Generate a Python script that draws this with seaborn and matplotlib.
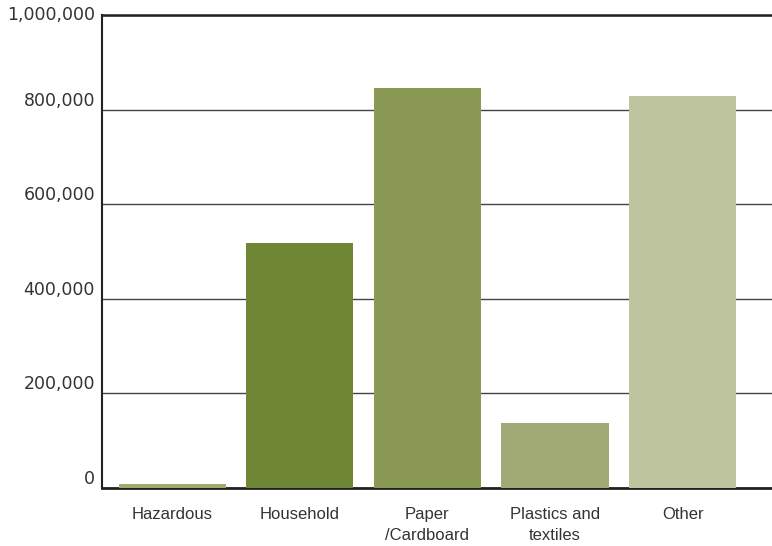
import matplotlib
matplotlib.use("Agg")
import matplotlib.pyplot as plt
import seaborn as sns
import pandas as pd

categories = ["Hazardous", "Household", "Paper\n/Cardboard", "Plastics and\ntextiles", "Other"]
tonnes = [8000, 518000, 846000, 137000, 829000]
colors = ["#a3ab6c", "#6f8734", "#8a9a55", "#a1aa74", "#bec49d"]
y_ticks = [0, 200000, 400000, 600000, 800000, 1000000]
y_labels = ["0", "200,000", "400,000", "600,000", "800,000", "1,000,000"]

sns.set_theme(style="white")
plt.rcParams["font.family"] = ["Liberation Sans", "DejaVu Sans"]

df = pd.DataFrame({"category": categories, "tonnes": tonnes})

fig = plt.figure(figsize=(7.72, 5.46), dpi=100)
ax = fig.add_axes([102 / 772, 1 - 488 / 546, 1 - 102 / 772, (488 - 15) / 546])

sns.barplot(data=df, x="category", y="tonnes", hue="category",
            palette=colors, width=0.84, saturation=1, legend=False,
            linewidth=0, ax=ax, zorder=3)

ax.set_ylim(0, 1000000)
ax.set_xlim(-0.55, 4.7)
ax.set_yticks(y_ticks)
ax.set_yticklabels(y_labels, fontsize=12.5, color="#333333", family="DejaVu Sans")
for lbl, v in zip(ax.get_yticklabels(), y_ticks):
    lbl.set_verticalalignment("center" if v == 1000000 else "bottom")
ax.tick_params(axis="y", length=0, pad=5)
ax.tick_params(axis="x", length=0, pad=14, labelsize=12, labelcolor="#333333")
for lbl in ax.get_xticklabels():
    lbl.set_linespacing(1.45)

ax.yaxis.grid(True, color="#444444", linewidth=1.0)
ax.set_axisbelow(True)

for side in ["left", "bottom", "top"]:
    ax.spines[side].set_visible(True)
    ax.spines[side].set_color("#222222")
ax.spines["left"].set_linewidth(1.5)
ax.spines["bottom"].set_linewidth(2.0)
ax.spines["top"].set_linewidth(1.8)
ax.spines["right"].set_visible(False)

ax.set_xlabel("")
ax.set_ylabel("")

fig.savefig("out.png", dpi=100)
